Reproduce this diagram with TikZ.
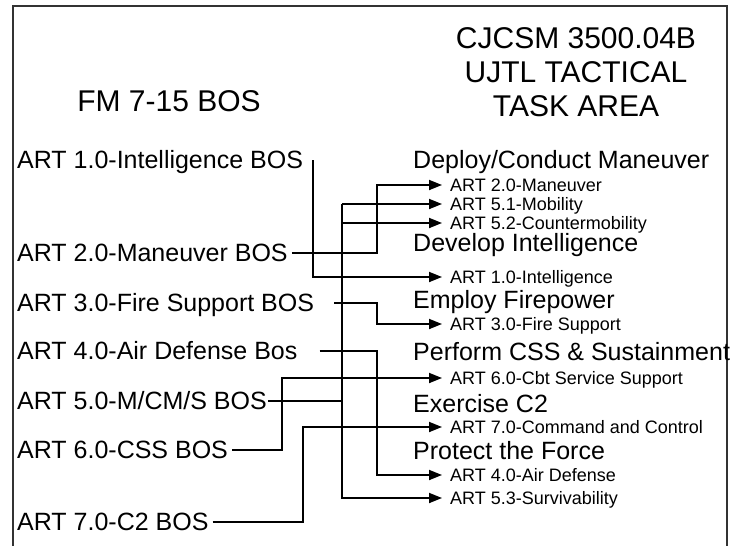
\documentclass[tikz,border=0pt]{standalone}
\usepackage{fontspec}
\setmainfont{Liberation Sans}
\usepackage{tikz}
\usetikzlibrary{arrows.meta, calc}
\tikzset{
  bos/.style={
    anchor=west, font=\fontsize{25}{30}\selectfont,
    inner xsep=4pt, inner ysep=0pt,
    text height=17.9pt, text depth=0pt,
  },
  area/.style={bos},
  task/.style={
    anchor=west, font=\fontsize{18}{21}\selectfont,
    inner xsep=8pt, inner ysep=0pt,
    text height=12.9pt, text depth=0pt,
  },
  head/.style={align=center, font=\fontsize{30}{34}\selectfont},
  link/.style={draw=black, line width=1.8pt},
  feed/.style={link, -{Triangle[length=13pt, width=10pt]}},
}

\begin{document}
\begin{tikzpicture}[x=1pt, y=-1pt]
\useasboundingbox (0,0) rectangle (731,546);
\draw[line width=1.8pt, black!80] (13,546) -- (13,6) -- (727,6) -- (727,546);

\node[head] (fm) at (169,101) {FM 7-15 BOS};
\node[head] (ujtl) at (576,72) {CJCSM 3500.04B\\UJTL TACTICAL\\TASK AREA};

\node[bos] (f1) at (13,160) {ART 1.0-Intelligence BOS};
\node[bos] (f2) at (13,253) {ART 2.0-Maneuver BOS};
\node[bos] (f3) at (13,303) {ART 3.0-Fire Support BOS};
\node[bos] (f4) at (13,351) {ART 4.0-Air Defense Bos};
\node[bos, inner xsep=1pt] (f5) at (16,401) {ART 5.0-M/CM/S BOS};
\node[bos] (f6) at (13,450) {ART 6.0-CSS BOS};
\node[bos] (f7) at (13,522) {ART 7.0-C2 BOS};

\node[area] (a1) at (409,160) {Deploy/Conduct Maneuver};
\node[area] (a2) at (409,243) {Develop Intelligence};
\node[area] (a3) at (409,300) {Employ Firepower};
\node[area] (a4) at (409,352) {Perform CSS \& Sustainment};
\node[area] (a5) at (409,404) {Exercise C2};
\node[area] (a6) at (409,451) {Protect the Force};

\node[task] (t20) at (442,185) {ART 2.0-Maneuver};
\node[task] (t51) at (442,204) {ART 5.1-Mobility};
\node[task] (t52) at (442,223) {ART 5.2-Countermobility};
\node[task] (t10) at (442,277) {ART 1.0-Intelligence};
\node[task] (t30) at (442,324) {ART 3.0-Fire Support};
\node[task] (t60) at (442,378) {ART 6.0-Cbt Service Support};
\node[task] (t70) at (442,427) {ART 7.0-Command and Control};
\node[task] (t40) at (442,475) {ART 4.0-Air Defense};
\node[task] (t53) at (442,498) {ART 5.3-Survivability};

\coordinate (xS) at (282,0);
\coordinate (xC) at (303,0);
\coordinate (xI) at (313,0);
\coordinate (xB) at (342,0);
\coordinate (xR) at (377,0);

\draw[feed] (f1.east -| xI) |- (t10.west);
\draw[feed] (f2.east) -| (xR |- t20.west) -- (t20.west);
\draw[feed] ([xshift=16pt]f3.east) -| (xR |- t30.west) -- (t30.west);
\draw[feed] ([xshift=18pt]f4.east) -| (xR |- t40.west) -- (t40.west);
\draw[link] (f5.east) -- (f5.east -| xB);
\draw[feed] (xB |- t51.west) -- (t51.west);
\draw[feed] (xB |- t52.west) -- (t52.west);
\draw[feed] (xB |- t51.west) |- (t53.west);
\draw[feed] (f6.east) -| (xS |- t60.west) -- (t60.west);
\draw[feed] (f7.east) -| (xC |- t70.west) -- (t70.west);

\end{tikzpicture}
\end{document}
